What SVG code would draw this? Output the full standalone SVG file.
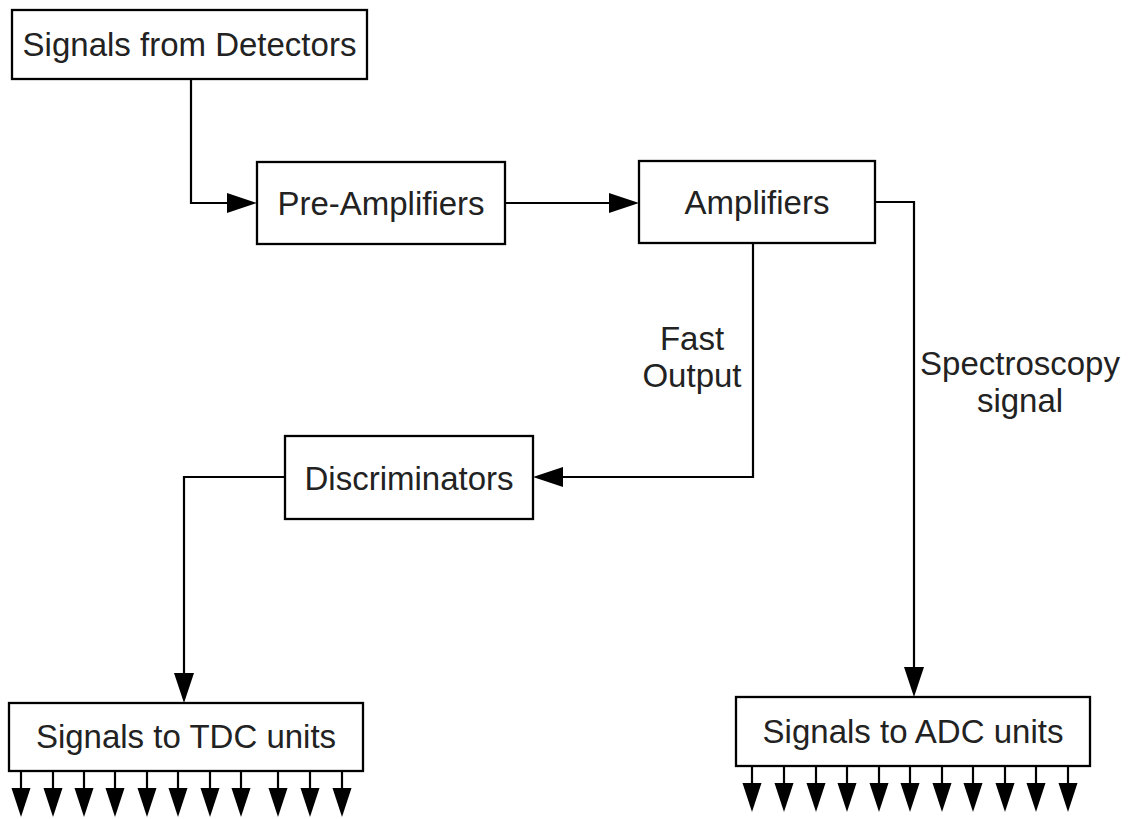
<svg xmlns="http://www.w3.org/2000/svg" xmlns:xlink="http://www.w3.org/1999/xlink" width="1132" height="819" viewBox="0 0 1132 819">
  <style>
    .box { fill: #ffffff; stroke: #000000; stroke-width: 2.3; }
    .lbl { font-family: "Liberation Sans", Arial, sans-serif; font-size: 33px; fill: #222222; text-anchor: middle; }
    .conn { fill: none; stroke: #000000; stroke-width: 2.2; }
    .head { fill: #000000; stroke: none; }
  </style>
  <defs>
    <marker id="arrow" markerUnits="userSpaceOnUse" markerWidth="30" markerHeight="20" refX="25" refY="10" orient="auto" viewBox="0 0 30 20">
      <path class="head" d="M0,0 L30,10 L0,20 Z"/>
    </marker>
    <g id="outArrow">
      <line x1="0" y1="0" x2="0" y2="20" stroke="#000" stroke-width="2.2"/>
      <path class="head" d="M-9.5,17 L9.5,17 L0,46 Z"/>
    </g>
  </defs>

  <g id="connectors">
    <path class="conn" d="M191,79 L191,203 L252,203" marker-end="url(#arrow)"/>
    <path class="conn" d="M505,203 L634,203" marker-end="url(#arrow)"/>
    <path class="conn" d="M753,243 L753,477 L538,477" marker-end="url(#arrow)"/>
    <path class="conn" d="M285,477 L184,477 L184,698" marker-end="url(#arrow)"/>
    <path class="conn" d="M875,202 L914,202 L914,692" marker-end="url(#arrow)"/>
    <text class="lbl" x="692" y="350">Fast</text>
    <text class="lbl" x="692" y="387">Output</text>
    <text class="lbl" x="1020" y="375">Spectroscopy</text>
    <text class="lbl" x="1020" y="412">signal</text>
  </g>

  <g id="node-detectors">
    <rect class="box" x="12" y="10" width="355" height="69"/>
    <text class="lbl" x="189.5" y="56">Signals from Detectors</text>
  </g>
  <g id="node-preamp">
    <rect class="box" x="257" y="162" width="248" height="82"/>
    <text class="lbl" x="381" y="215">Pre-Amplifiers</text>
  </g>
  <g id="node-amp">
    <rect class="box" x="639" y="161" width="236" height="82"/>
    <text class="lbl" x="757" y="214">Amplifiers</text>
  </g>
  <g id="node-disc">
    <rect class="box" x="285" y="436" width="248" height="83"/>
    <text class="lbl" x="409" y="490">Discriminators</text>
  </g>
  <g id="node-tdc">
    <rect class="box" x="9" y="703" width="354" height="68"/>
    <text class="lbl" x="186" y="748">Signals to TDC units</text>
    <g id="tdc-outputs">
      <use xlink:href="#outArrow" x="21" y="771"/>
      <use xlink:href="#outArrow" x="53" y="771"/>
      <use xlink:href="#outArrow" x="84" y="771"/>
      <use xlink:href="#outArrow" x="115" y="771"/>
      <use xlink:href="#outArrow" x="147" y="771"/>
      <use xlink:href="#outArrow" x="178" y="771"/>
      <use xlink:href="#outArrow" x="210" y="771"/>
      <use xlink:href="#outArrow" x="241" y="771"/>
      <use xlink:href="#outArrow" x="278" y="771"/>
      <use xlink:href="#outArrow" x="310" y="771"/>
      <use xlink:href="#outArrow" x="342" y="771"/>
    </g>
  </g>
  <g id="node-adc">
    <rect class="box" x="736" y="697" width="354" height="69"/>
    <text class="lbl" x="913" y="743">Signals to ADC units</text>
    <g id="adc-outputs">
      <use xlink:href="#outArrow" x="752" y="766"/>
      <use xlink:href="#outArrow" x="784" y="766"/>
      <use xlink:href="#outArrow" x="816" y="766"/>
      <use xlink:href="#outArrow" x="847" y="766"/>
      <use xlink:href="#outArrow" x="879" y="766"/>
      <use xlink:href="#outArrow" x="910" y="766"/>
      <use xlink:href="#outArrow" x="942" y="766"/>
      <use xlink:href="#outArrow" x="973" y="766"/>
      <use xlink:href="#outArrow" x="1005" y="766"/>
      <use xlink:href="#outArrow" x="1036" y="766"/>
      <use xlink:href="#outArrow" x="1068" y="766"/>
    </g>
  </g>
</svg>
